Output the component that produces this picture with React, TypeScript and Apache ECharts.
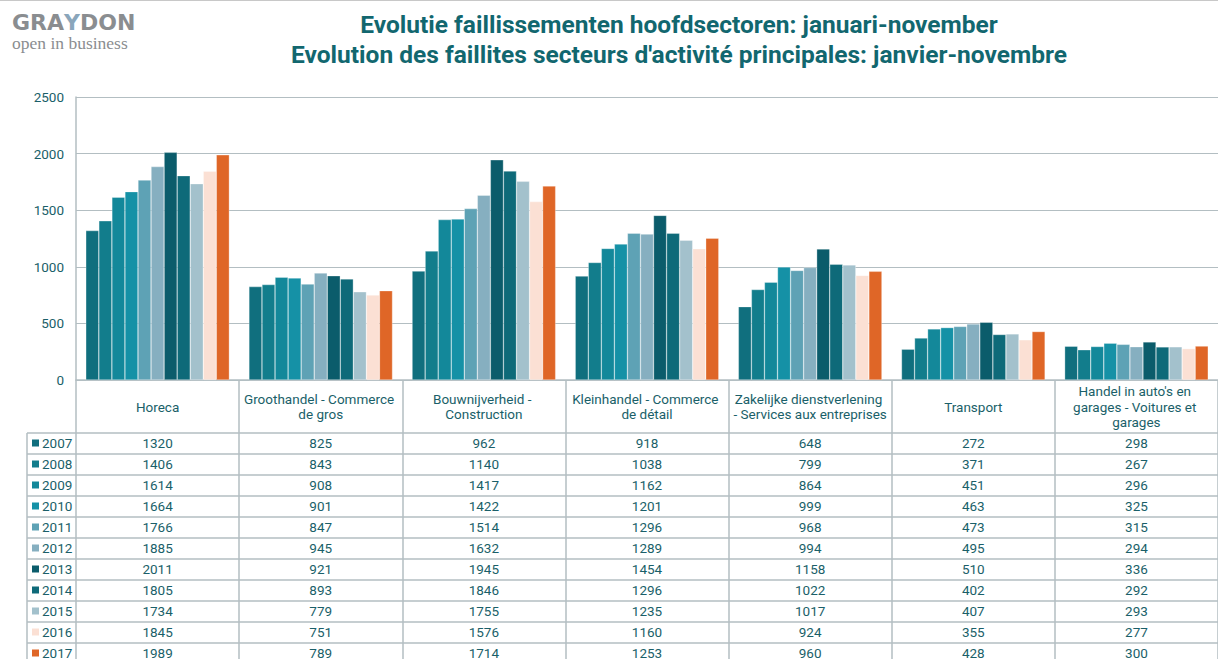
import React, { useEffect, useRef } from "react";
import * as echarts from "echarts";

const sectors = [
  "Horeca",
  "Groothandel - Commerce de gros",
  "Bouwnijverheid - Construction",
  "Kleinhandel - Commerce de détail",
  "Zakelijke dienstverlening - Services aux entreprises",
  "Transport",
  "Handel in auto's en garages - Voitures et garages",
];
const years = ["2007", "2008", "2009", "2010", "2011", "2012", "2013", "2014", "2015", "2016", "2017"];
const v2007 = [1320, 825, 962, 918, 648, 272, 298];
const v2008 = [1406, 843, 1140, 1038, 799, 371, 267];
const v2009 = [1614, 908, 1417, 1162, 864, 451, 296];
const v2010 = [1664, 901, 1422, 1201, 999, 463, 325];
const v2011 = [1766, 847, 1514, 1296, 968, 473, 315];
const v2012 = [1885, 945, 1632, 1289, 994, 495, 294];
const v2013 = [2011, 921, 1945, 1454, 1158, 510, 336];
const v2014 = [1805, 893, 1846, 1296, 1022, 402, 292];
const v2015 = [1734, 779, 1755, 1235, 1017, 407, 293];
const v2016 = [1845, 751, 1576, 1160, 924, 355, 277];
const v2017 = [1989, 789, 1714, 1253, 960, 428, 300];
const values = [v2007, v2008, v2009, v2010, v2011, v2012, v2013, v2014, v2015, v2016, v2017];
const colors = [
  "#106f7e", "#127d8c", "#13889a", "#1591a6", "#5ea2b5", "#86afc0",
  "#0b5c6b", "#0e6a79", "#a3c1cc", "#fbe0d4", "#df6627",
];
const titleLines = [
  "Evolutie faillissementen hoofdsectoren: januari-november",
  "Evolution des faillites secteurs d'activité principales: janvier-novembre",
];

const W = 1218;
const H = 659;
const GRID_LEFT = 76;
const GRID_TOP = 97;
const GRID_BOTTOM_Y = 380;
const GRID_RIGHT = 0;
const HEADER_H = 53;
const ROW_H = 21;
const TABLE_LEFT = 27;
const TEXT = "#1a5f69";
const LINE = "#b3bec2";

export default function App() {
  const ref = useRef<HTMLDivElement>(null);
  useEffect(() => {
    const chart = echarts.init(ref.current!, undefined, { renderer: "svg" });
    const plotW = W - GRID_LEFT - GRID_RIGHT;
    const catW = plotW / sectors.length;
    const tableTop = GRID_BOTTOM_Y + HEADER_H;

    const graphics: any[] = [];
    // logo
    graphics.push({
      type: "text",
      left: 12,
      top: 11,
      style: {
        text: "GRA{y|Y}DON",
        font: "bold 22px 'DejaVu Sans', sans-serif",
        fill: "#8a8d90",
        rich: {
          y: { font: "bold 22px 'DejaVu Sans', sans-serif", fill: "#8aa6bb" },
        },
      },
    });
    graphics.push({
      type: "text",
      left: 12,
      top: 34,
      style: {
        text: "open in business",
        font: "17.5px 'Liberation Serif', serif",
        fill: "#8a8d90",
      },
    });
    graphics.push({
      type: "line",
      shape: { x1: 0, y1: 0.5, x2: W, y2: 0.5 },
      style: { stroke: "#c8c8c8", lineWidth: 1 },
    });
    // table horizontal lines
    for (let r = 0; r <= years.length; r++) {
      const y = tableTop + r * ROW_H;
      graphics.push({
        type: "line",
        shape: { x1: TABLE_LEFT, y1: y, x2: W, y2: y },
        style: { stroke: LINE, lineWidth: 1.5 },
      });
    }
    graphics.push({
      type: "line",
      shape: { x1: TABLE_LEFT, y1: tableTop, x2: TABLE_LEFT, y2: H },
      style: { stroke: LINE, lineWidth: 1.5 },
    });
    // table rows
    years.forEach((yr, r) => {
      const cy = tableTop + r * ROW_H + ROW_H / 2 - 0.5;
      graphics.push({
        type: "rect",
        shape: { x: 32, y: cy - 3.5, width: 7, height: 7 },
        style: { fill: colors[r] },
      });
      graphics.push({
        type: "text",
        x: 42,
        y: cy,
        style: {
          text: yr,
          font: "13.5px Roboto, sans-serif",
          fill: TEXT,
          textVerticalAlign: "middle",
          textAlign: "left",
        },
      });
      values[r].forEach((v, c) => {
        graphics.push({
          type: "text",
          x: GRID_LEFT + (c + 0.5) * catW,
          y: cy,
          style: {
            text: String(v),
            font: "13.5px Roboto, sans-serif",
            fill: TEXT,
            textVerticalAlign: "middle",
            textAlign: "center",
          },
        });
      });
    });

    chart.setOption({
      animation: false,
      textStyle: { fontFamily: "Roboto, sans-serif" },
      title: {
        text: titleLines.join("\n"),
        left: 674,
        textAlign: "center",
        top: 4,
        textStyle: {
          fontSize: 24.5,
          fontWeight: "bold",
          color: "#12676f",
          lineHeight: 30,
          fontFamily: "Roboto, sans-serif",
        },
      },
      grid: {
        left: GRID_LEFT,
        top: GRID_TOP,
        right: GRID_RIGHT,
        bottom: H - GRID_BOTTOM_Y,
        containLabel: false,
      },
      xAxis: {
        type: "category",
        data: sectors,
        axisLine: { show: true, lineStyle: { color: LINE, width: 1.5 } },
        axisTick: { show: true, length: H - GRID_BOTTOM_Y + 5, lineStyle: { color: LINE, width: 1.5 } },
        axisLabel: {
          interval: 0,
          margin: HEADER_H / 2,
          verticalAlign: "middle",
          width: 155,
          overflow: "break",
          lineHeight: 15.5,
          fontSize: 13.5,
          color: TEXT,
          align: "center",
        },
      },
      yAxis: {
        type: "value",
        min: 0,
        max: 2500,
        interval: 500,
        axisLine: { show: true, lineStyle: { color: LINE, width: 1.5 } },
        axisTick: { show: false },
        axisLabel: { fontSize: 13.5, color: TEXT, margin: 12, formatter: (v: number) => String(v) },
        splitLine: { lineStyle: { color: LINE, width: 1 } },
      },
      series: years.map((yr, i) => ({
        name: yr,
        type: "bar",
        data: values[i],
        barGap: "0%",
        barCategoryGap: "12%",
        itemStyle: {
          color: colors[i],
          borderColor: "rgba(255,255,255,0.6)",
          borderWidth: 0.5,
        },
      })),
      graphic: graphics,
    });
    return () => chart.dispose();
  }, []);
  return (
    <div
      ref={ref}
      style={{ position: "absolute", left: 0, top: 0, width: W, height: H }}
    />
  );
}
